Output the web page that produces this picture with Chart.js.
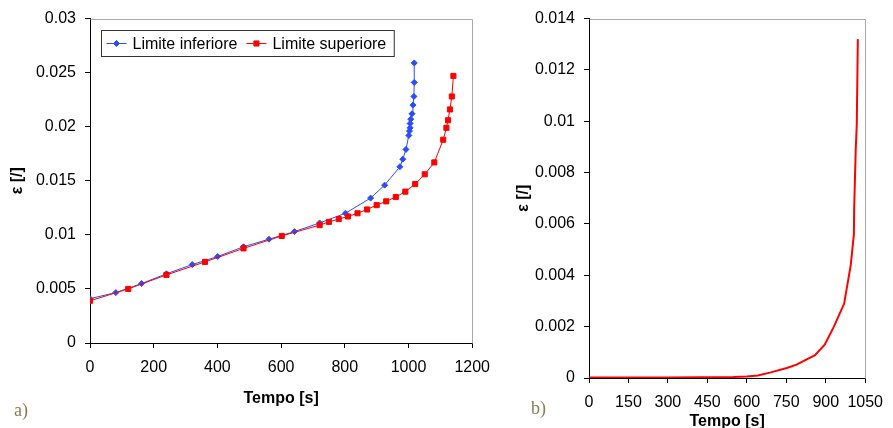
<!DOCTYPE html>
<html>
<head>
<meta charset="utf-8">
<title>Deformazione nel tempo</title>
<script src="https://cdn.jsdelivr.net/npm/chart.js@4.4.1/dist/chart.umd.min.js"></script>
<style>
    html, body { margin: 0; padding: 0; background: #fff; overflow: hidden; }
    #page { position: relative; width: 893px; height: 428px; overflow: hidden; }
    #leftChart { position: absolute; left: 0; top: 0; }
    #rightChart { position: absolute; left: 500px; top: 0; }
    .tag { position: absolute; font-family: "Liberation Serif", "DejaVu Serif", serif; font-size: 18px; color: #857d55; }
</style>
</head>
<body>
<div id="page">
    <canvas id="leftChart" width="500" height="428"></canvas>
    <canvas id="rightChart" width="393" height="440"></canvas>
    <span class="tag" style="left:14px; top:400px;">a)</span>
    <span class="tag" style="left:531px; top:398px;">b)</span>
</div>
<script>
// a) limite inferiore / superiore
const inferioreTime = [0, 81, 162, 240, 321, 401, 482, 562, 642, 721, 802, 881, 925, 973, 982, 992, 1001, 1003, 1005, 1005, 1007, 1011, 1014, 1017, 1018, 1018];
const inferioreStrain = [0.0041, 0.00466, 0.0055, 0.0064, 0.00725, 0.0080, 0.0089, 0.0096, 0.0103, 0.0111, 0.0120, 0.0134, 0.0146, 0.0163, 0.0170, 0.0179, 0.0192, 0.0196, 0.0199, 0.0203, 0.0207, 0.0212, 0.0220, 0.0228, 0.0241, 0.0259];
const superioreTime = [0, 120, 240, 361, 482, 602, 721, 750, 781, 810, 840, 870, 900, 930, 960, 990, 1021, 1051, 1081, 1109, 1119, 1124, 1130, 1136, 1141];
const superioreStrain = [0.0039, 0.0050, 0.0063, 0.0075, 0.00875, 0.0099, 0.0109, 0.0112, 0.01146, 0.0117, 0.0120, 0.01235, 0.01275, 0.0131, 0.0135, 0.0140, 0.0147, 0.0156, 0.0167, 0.0188, 0.0199, 0.0206, 0.0216, 0.0228, 0.0247];

// b) curva singola
const curveTime = [0, 300, 550, 600, 642, 691, 752, 789, 859, 896, 931, 970, 995, 1007, 1008, 1014, 1018, 1022];
const curveStrain = [0.00002, 0.00002, 0.00004, 0.00006, 0.0001, 0.00022, 0.00039, 0.00052, 0.00089, 0.0013, 0.0020, 0.0029, 0.0044, 0.0056, 0.0066, 0.0089, 0.0099, 0.0132];

// axis ranges
const leftX = { max: 1200, step: 200 };
const leftY = { max: 0.03, step: 0.005 };
const rightX = { max: 1050, step: 150 };
const rightY = { max: 0.014, step: 0.002 };

const FONT = '"Liberation Sans", Arial, sans-serif';
Chart.defaults.font.family = FONT;

function toPoints(xs, ys) {
    return xs.map(function (x, i) {
        return { x: x, y: ys[i] };
    });
}

function formatTick(value) {
    return String(parseFloat(Number(value).toFixed(4)));
}

function axisX(range, height, titlePad) {
    return {
        type: 'linear',
        min: 0,
        max: range.max,
        border: { color: '#000', width: 1 },
        grid: { drawOnChartArea: false, tickLength: 5, color: '#000' },
        ticks: {
            stepSize: range.step,
            autoSkip: false,
            maxRotation: 0,
            padding: 10,
            color: '#000',
            font: { size: 16 },
            callback: formatTick
        },
        title: {
            display: true,
            text: 'Tempo [s]',
            color: '#000',
            font: { size: 16, weight: 'bold' },
            padding: { top: 0, bottom: titlePad }
        },
        afterFit: function (scale) {
            scale.height = height;
        }
    };
}

function axisY(range, width, titlePad) {
    return {
        type: 'linear',
        min: 0,
        max: range.max,
        border: { color: '#000', width: 1 },
        grid: { drawOnChartArea: false, tickLength: 5, color: '#000' },
        ticks: {
            stepSize: range.step,
            autoSkip: false,
            padding: 9,
            color: '#000',
            font: { size: 16 },
            callback: formatTick
        },
        title: {
            display: true,
            text: 'ε [/]',
            color: '#000',
            font: { size: 16, weight: 'bold' },
            padding: { top: titlePad, bottom: 0 }
        },
        afterFit: function (scale) {
            scale.width = width;
        }
    };
}

// grey top and right edges of the plot area
const frameLines = {
    id: 'frameLines',
    beforeDatasetsDraw: function (chart) {
        const a = chart.chartArea;
        const ctx = chart.ctx;
        ctx.save();
        ctx.strokeStyle = '#a8a8a8';
        ctx.lineWidth = 1;
        ctx.beginPath();
        ctx.moveTo(Math.round(a.left) + 0.5, Math.round(a.top) + 0.5);
        ctx.lineTo(Math.round(a.right) + 0.5, Math.round(a.top) + 0.5);
        ctx.lineTo(Math.round(a.right) + 0.5, Math.round(a.bottom) + 0.5);
        ctx.stroke();
        ctx.restore();
    }
};

// boxed legend inside the plot area
const legendBox = {
    id: 'legendBox',
    afterDraw: function (chart) {
        const ctx = chart.ctx;
        const left = 101.5;
        const top = 30.5;
        const h = 26;
        const cy = top + h / 2;
        ctx.save();
        ctx.font = '16px ' + FONT;
        const sets = chart.data.datasets;
        let w = 6;
        sets.forEach(function (ds) {
            w += 20 + 6 + ctx.measureText(ds.label).width + 9;
        });
        w -= 2;
        ctx.fillStyle = '#fff';
        ctx.fillRect(left, top, w, h);
        ctx.strokeStyle = '#333';
        ctx.lineWidth = 1;
        ctx.strokeRect(left, top, w, h);

        let x = left + 5;
        sets.forEach(function (ds) {
            ctx.strokeStyle = ds.borderColor;
            ctx.lineWidth = 1;
            ctx.beginPath();
            ctx.moveTo(x, cy);
            ctx.lineTo(x + 20, cy);
            ctx.stroke();
            ctx.fillStyle = ds.backgroundColor;
            Chart.helpers.drawPoint(ctx, {
                pointStyle: ds.pointStyle,
                radius: ds.pointRadius,
                rotation: 0,
                borderWidth: 1
            }, x + 10, cy);
            x += 26;
            ctx.fillStyle = '#000';
            ctx.textBaseline = 'middle';
            ctx.textAlign = 'left';
            ctx.fillText(ds.label, x, cy + 1);
            x += ctx.measureText(ds.label).width + 9;
        });
        ctx.restore();
    }
};

function createLeftChart() {
    return new Chart(document.getElementById('leftChart'), {
        type: 'scatter',
        data: {
            datasets: [{
                label: 'Limite inferiore',
                data: toPoints(inferioreTime, inferioreStrain),
                showLine: true,
                borderColor: '#2a4cff',
                backgroundColor: '#2a4cff',
                borderWidth: 1,
                pointStyle: 'rectRot',
                pointRadius: 3,
                pointBorderWidth: 1,
                order: 0
            }, {
                label: 'Limite superiore',
                data: toPoints(superioreTime, superioreStrain),
                showLine: true,
                borderColor: '#ff0000',
                backgroundColor: '#ff0000',
                borderWidth: 1,
                pointStyle: 'rect',
                pointRadius: 3.6,
                pointBorderWidth: 1,
                order: -1
            }]
        },
        options: {
            responsive: false,
            animation: false,
            layout: { padding: { top: 18, right: 26, left: 0, bottom: 0 } },
            plugins: {
                legend: { display: false },
                tooltip: { enabled: false }
            },
            scales: {
                x: axisX(leftX, 85, 20),
                y: axisY(leftY, 90, 8)
            }
        },
        plugins: [frameLines, legendBox]
    });
}

function createRightChart() {
    return new Chart(document.getElementById('rightChart'), {
        type: 'scatter',
        data: {
            datasets: [{
                label: 'ε',
                data: toPoints(curveTime, curveStrain),
                showLine: true,
                borderColor: '#ff0000',
                backgroundColor: '#ff0000',
                borderWidth: 2,
                pointRadius: 0
            }]
        },
        options: {
            responsive: false,
            animation: false,
            layout: { padding: { top: 18, right: 19, left: 0, bottom: 0 } },
            plugins: {
                legend: { display: false },
                tooltip: { enabled: false }
            },
            scales: {
                x: axisX(rightX, 62, 9),
                y: axisY(rightY, 89, 14)
            }
        },
        plugins: [frameLines]
    });
}

createLeftChart();
createRightChart();
</script>
</body>
</html>
